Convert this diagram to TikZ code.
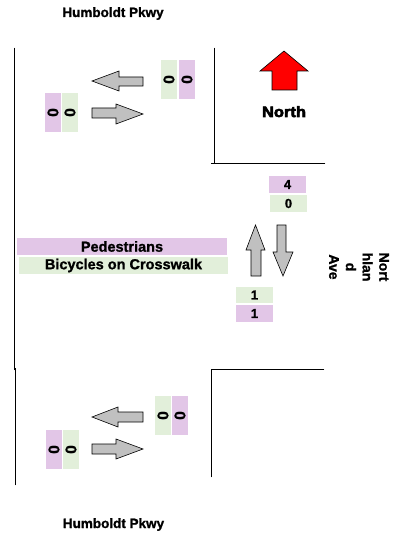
\documentclass[tikz,border=0pt]{standalone}
\usepackage{fontspec}
\setmainfont[BoldFeatures={FakeBold=1.2}]{Liberation Sans}
\newfontfamily\heavyfont[BoldFeatures={FakeBold=4,FakeStretch=1.1}]{Liberation Sans}
\definecolor{pur}{HTML}{E2C6E7}
\definecolor{grn}{HTML}{E2EFDA}
\definecolor{arrgray}{HTML}{C0C0C0}
\tikzset{
  road/.style={line width=0.9pt, line cap=rect},
  garrow/.style={fill=arrgray, draw=black, line width=0.6pt, line join=miter},
  lbl/.style={inner sep=0pt, font=\fontsize{13.5}{16}\selectfont\bfseries},
  cnt/.style={inner sep=0pt, minimum width=37pt, minimum height=17pt, font=\fontsize{13}{15}\selectfont\bfseries},
  vcnt/.style={inner sep=0pt, rotate=90, minimum width=39pt, minimum height=16pt, font=\fontsize{15.5}{16}\selectfont\bfseries},
  wide/.style={inner sep=0pt, minimum height=17pt, font=\fontsize{14.5}{16}\selectfont\bfseries}
}
\begin{document}
\begin{tikzpicture}[x=1pt,y=-1pt]
\useasboundingbox (0,0) rectangle (396,537);
% street names
\node[lbl, anchor=base] (hpTop) at (113,17) {Humboldt Pkwy};
\node[lbl, anchor=base] (hpBot) at (113.5,528) {Humboldt Pkwy};
\node[inner sep=0pt, rotate=-90, align=center, font=\fontsize{14}{16.7}\selectfont\bfseries] (na) at (359,267) {Nort\\hlan\\d\\Ave};
% curbs
\draw[road] (14,48) -- (14,370);
\draw[road] (15,368) -- (15,485);
\draw[road] (214,48) -- (214,163);
\draw[road] (211,163) -- (325,163);
\draw[road] (211,477) -- (211,369) -- (324,369);
% north arrow
\draw[fill=red, draw=black, line width=0.6pt] (284,51) -- (308,71) -- (297,71) -- (297,90) -- (272,90) -- (272,71) -- (260,71) -- cycle;
\node[inner sep=0pt, anchor=base, font=\fontsize{15}{16}\heavyfont\bfseries] (north) at (284,117) {North};
% top approach arrows
\draw[garrow] (92,81) -- (119,71) -- (119,77) -- (143,77) -- (143,86) -- (119,86) -- (119,91) -- cycle;
\draw[garrow] (92,108) -- (116,108) -- (116,104) -- (143,114) -- (116,124) -- (116,118) -- (92,118) -- cycle;
% bottom approach arrows
\draw[garrow] (92,417) -- (118,407) -- (118,412) -- (143,412) -- (143,422) -- (118,422) -- (118,427) -- cycle;
\draw[garrow] (92,444) -- (116,444) -- (116,439) -- (143,449) -- (116,459) -- (116,454) -- (92,454) -- cycle;
% north/south arrows
\draw[garrow] (255.5,225) -- (265,250) -- (261,250) -- (261,276) -- (251,276) -- (251,250) -- (246,250) -- cycle;
\draw[garrow] (277,225) -- (286,225) -- (286,252) -- (293,252) -- (283,276) -- (273,252) -- (277,252) -- cycle;
% vertical count boxes
\node[vcnt, fill=grn] (t1) at (169,79.5) {0};
\node[vcnt, fill=pur] (t2) at (187,79.5) {0};
\node[vcnt, fill=pur] (t3) at (53,112.5) {0};
\node[vcnt, fill=grn] (t4) at (70,112.5) {0};
\node[vcnt, fill=grn] (b1) at (163,415.5) {0};
\node[vcnt, fill=pur] (b2) at (180,415.5) {0};
\node[vcnt, fill=pur] (b3) at (54,449.5) {0};
\node[vcnt, fill=grn] (b4) at (71,449.5) {0};
% horizontal count boxes
\node[cnt, fill=pur] (n1) at (287.5,184.5) {4};
\node[cnt, fill=grn] (n2) at (288.5,203.5) {0};
\node[cnt, fill=grn, minimum height=16pt] (s1) at (254.5,295) {1};
\node[cnt, fill=pur] (s2) at (254.5,313.5) {1};
% legend
\node[wide, fill=pur, minimum width=210pt] (ped) at (122,246.5) {Pedestrians};
\node[wide, fill=grn, minimum width=209pt] (bic) at (123.5,265.5) {Bicycles on Crosswalk};
\end{tikzpicture}
\end{document}
